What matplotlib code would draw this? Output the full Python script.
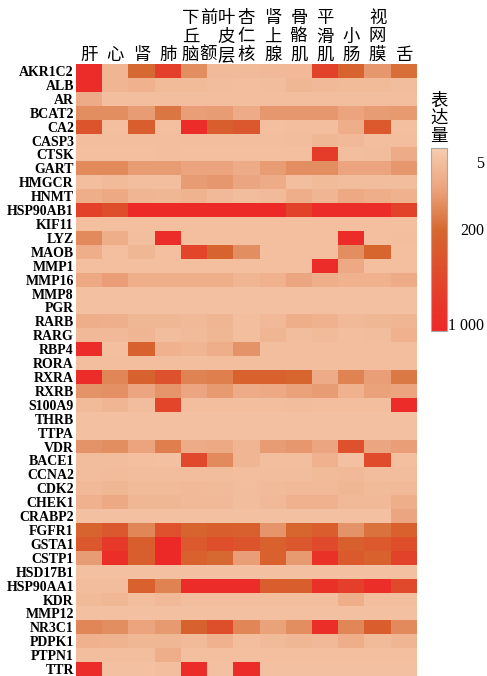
import numpy as np
import matplotlib
matplotlib.use('Agg')
import matplotlib.pyplot as plt
from matplotlib.colors import LinearSegmentedColormap, PowerNorm
from matplotlib.transforms import blended_transform_factory

# genes (rows) and tissues (columns)
genes = ['AKR1C2', 'ALB', 'AR', 'BCAT2', 'CA2', 'CASP3', 'CTSK', 'GART', 'HMGCR', 'HNMT',
         'HSP90AB1', 'KIF11', 'LYZ', 'MAOB', 'MMP1', 'MMP16', 'MMP8', 'PGR', 'RARB', 'RARG',
         'RBP4', 'RORA', 'RXRA', 'RXRB', 'S100A9', 'THRB', 'TTPA', 'VDR', 'BACE1', 'CCNA2',
         'CDK2', 'CHEK1', 'CRABP2', 'FGFR1', 'GSTA1', 'CSTP1', 'HSD17B1', 'HSP90AA1', 'KDR', 'MMP12',
         'NR3C1', 'PDPK1', 'PTPN1', 'TTR']
tissues = ['肝', '心', '肾', '肺', '下丘脑', '前额叶皮层', '杏仁核', '肾上腺',
           '骨骼肌', '平滑肌', '小肠', '视网膜', '舌']

# 表达量 per tissue, one value per gene (same order as genes)
liver = [1000, 1000, 30, 90, 380, 5, 4, 100, 5, 25,
         620, 4, 100, 25, 4, 35, 3, 3, 25, 10,
         1000, 5, 1000, 80, 8, 3, 3, 80, 6, 6,
         10, 20, 3, 230, 350, 60, 3, 6, 8, 3,
         110, 20, 5, 1000]
heart = [15, 15, 5, 90, 4, 5, 4, 100, 8, 35,
         450, 4, 25, 4, 4, 55, 3, 3, 22, 10,
         4, 5, 110, 85, 15, 3, 3, 90, 6, 7,
         12, 35, 3, 350, 750, 950, 3, 6, 12, 3,
         90, 18, 5, 3]
kidney = [200, 20, 5, 60, 280, 5, 4, 60, 5, 15,
          1050, 4, 5, 12, 4, 25, 3, 3, 12, 15,
          250, 5, 250, 40, 6, 3, 3, 45, 4, 6,
          8, 12, 3, 110, 280, 280, 3, 260, 5, 3,
          45, 12, 5, 3]
lung = [650, 8, 5, 160, 4, 5, 5, 60, 5, 12,
        1050, 4, 1000, 4, 4, 25, 3, 3, 12, 6,
        20, 5, 400, 75, 550, 3, 3, 130, 3, 6,
        8, 12, 3, 420, 1050, 1050, 3, 120, 10, 3,
        65, 12, 25, 5]
hypothalamus = [90, 8, 5, 55, 1000, 5, 4, 45, 60, 18,
                1050, 4, 4, 550, 4, 25, 3, 3, 10, 8,
                15, 5, 120, 40, 5, 3, 3, 30, 500, 6,
                10, 10, 3, 230, 330, 260, 3, 1000, 5, 3,
                250, 8, 4, 1000]
prefrontal = [8, 6, 5, 60, 280, 5, 4, 45, 70, 10,
              1050, 4, 4, 230, 4, 25, 3, 3, 15, 12,
              25, 5, 130, 65, 5, 3, 3, 35, 100, 6,
              8, 10, 3, 280, 450, 200, 3, 1000, 5, 3,
              450, 20, 4, 3]
amygdala = [8, 5, 5, 30, 350, 5, 4, 30, 40, 6,
            1050, 4, 4, 90, 4, 15, 3, 3, 5, 5,
            80, 5, 260, 30, 5, 3, 3, 15, 15, 5,
            6, 6, 3, 270, 380, 55, 3, 1000, 5, 3,
            110, 5, 4, 1000]
adrenal = [10, 6, 5, 70, 4, 5, 4, 60, 30, 8,
           1050, 4, 4, 4, 4, 20, 3, 3, 10, 15,
           5, 5, 260, 35, 5, 3, 3, 60, 5, 6,
           8, 10, 3, 75, 260, 260, 3, 300, 5, 3,
           50, 8, 4, 3]
skeletal = [10, 12, 5, 70, 5, 6, 4, 90, 5, 25,
            600, 4, 4, 4, 4, 40, 3, 3, 25, 6,
            5, 5, 220, 50, 6, 3, 3, 70, 5, 6,
            10, 20, 3, 220, 350, 65, 3, 280, 5, 3,
            90, 12, 4, 3]
smooth = [600, 10, 5, 70, 5, 12, 700, 90, 8, 15,
          1000, 4, 4, 4, 1000, 25, 3, 3, 20, 8,
          5, 5, 30, 60, 5, 3, 3, 40, 20, 8,
          10, 20, 3, 300, 500, 900, 3, 900, 5, 3,
          950, 10, 4, 3]
intestine = [230, 8, 5, 45, 25, 10, 5, 45, 6, 35,
             1000, 4, 1000, 90, 35, 20, 3, 3, 10, 5,
             5, 5, 120, 20, 5, 3, 3, 400, 3, 10,
             12, 10, 3, 80, 270, 320, 3, 650, 25, 3,
             110, 25, 4, 3]
retina = [70, 8, 5, 60, 330, 5, 6, 45, 6, 25,
          1000, 4, 4, 220, 4, 20, 3, 3, 12, 6,
          5, 5, 55, 50, 5, 3, 3, 40, 480, 6,
          8, 10, 3, 170, 330, 260, 3, 950, 5, 3,
          300, 8, 4, 3]
tongue = [180, 6, 5, 65, 4, 5, 30, 70, 6, 20,
          600, 4, 5, 4, 4, 30, 3, 3, 15, 20,
          5, 5, 150, 45, 1000, 3, 3, 55, 4, 6,
          10, 25, 40, 260, 450, 600, 3, 500, 5, 3,
          100, 15, 4, 3]

cbar_ticks = [5, 200, 1000]
cbar_labels = ['5', '200', '1 000']

data = np.array([liver, heart, kidney, lung, hypothalamus, prefrontal, amygdala,
                 adrenal, skeletal, smooth, intestine, retina, tongue], dtype=float).T

cmap = LinearSegmentedColormap.from_list(
    'expr', [(0.0, '#F7CCAE'), (0.22, '#EBA47E'), (0.45, '#D6682F'),
             (0.72, '#E2462B'), (1.0, '#EE2828')])
norm = PowerNorm(gamma=0.48, vmin=0, vmax=1090)

W, H = 487, 676
fig = plt.figure(figsize=(W / 100, H / 100), dpi=100)
ax = fig.add_axes([76 / W, 0, 341 / W, 612 / H])
im = ax.imshow(data, cmap=cmap, norm=norm, aspect='auto', interpolation='nearest')

ax.set_yticks(range(len(genes)))
ax.set_yticklabels(genes, fontfamily='Liberation Serif', fontweight='bold', fontsize=10)
ax.set_xticks([])
ax.tick_params(axis='y', length=0, pad=1.5)
for s in ax.spines.values():
    s.set_visible(False)

# column labels, characters stacked vertically (bottom aligned)
cjk = ['Noto Sans CJK SC', 'DejaVu Sans']
row_y = [18, 36.5, 55]  # px from top
trans = blended_transform_factory(ax.transData, fig.transFigure)
wrapped = {'下丘脑': [('下', -0.13, 0), ('丘', -0.13, 1), ('脑', -0.13, 2)],
           '前额叶皮层': [('前', -0.45, 0), ('额', -0.45, 2),
                          ('叶', 0.24, 0), ('皮', 0.24, 1), ('层', 0.24, 2)]}
for i, name in enumerate(tissues):
    if name in wrapped:
        parts = wrapped[name]
    else:
        parts = [(ch, 0, 3 - len(name) + k) for k, ch in enumerate(name)]
    for ch, dx, r in parts:
        ax.text(i + dx, 1 - row_y[r] / H, ch, transform=trans, ha='center', va='center',
                fontsize=12.5, family=cjk, clip_on=False)

# colorbar (low values at the top)
cax = fig.add_axes([431 / W, 1 - 331 / H, 16 / W, 183 / H])
cb = fig.colorbar(im, cax=cax, ticks=cbar_ticks)
cb.ax.set_yticklabels(cbar_labels, fontfamily='Liberation Serif', fontsize=11.5)
cax.invert_yaxis()
cax.tick_params(length=0, pad=27)
plt.setp(cax.get_yticklabels(), ha='right')
cb.outline.set_edgecolor('#A8A8A8')
cb.outline.set_linewidth(0.8)

for ch, yc in zip('表达量', [100.5, 118, 136.5]):
    fig.text(439 / W, 1 - yc / H, ch, ha='center', va='center', fontsize=12.5, family=cjk)

fig.savefig('out.png', dpi=100)
